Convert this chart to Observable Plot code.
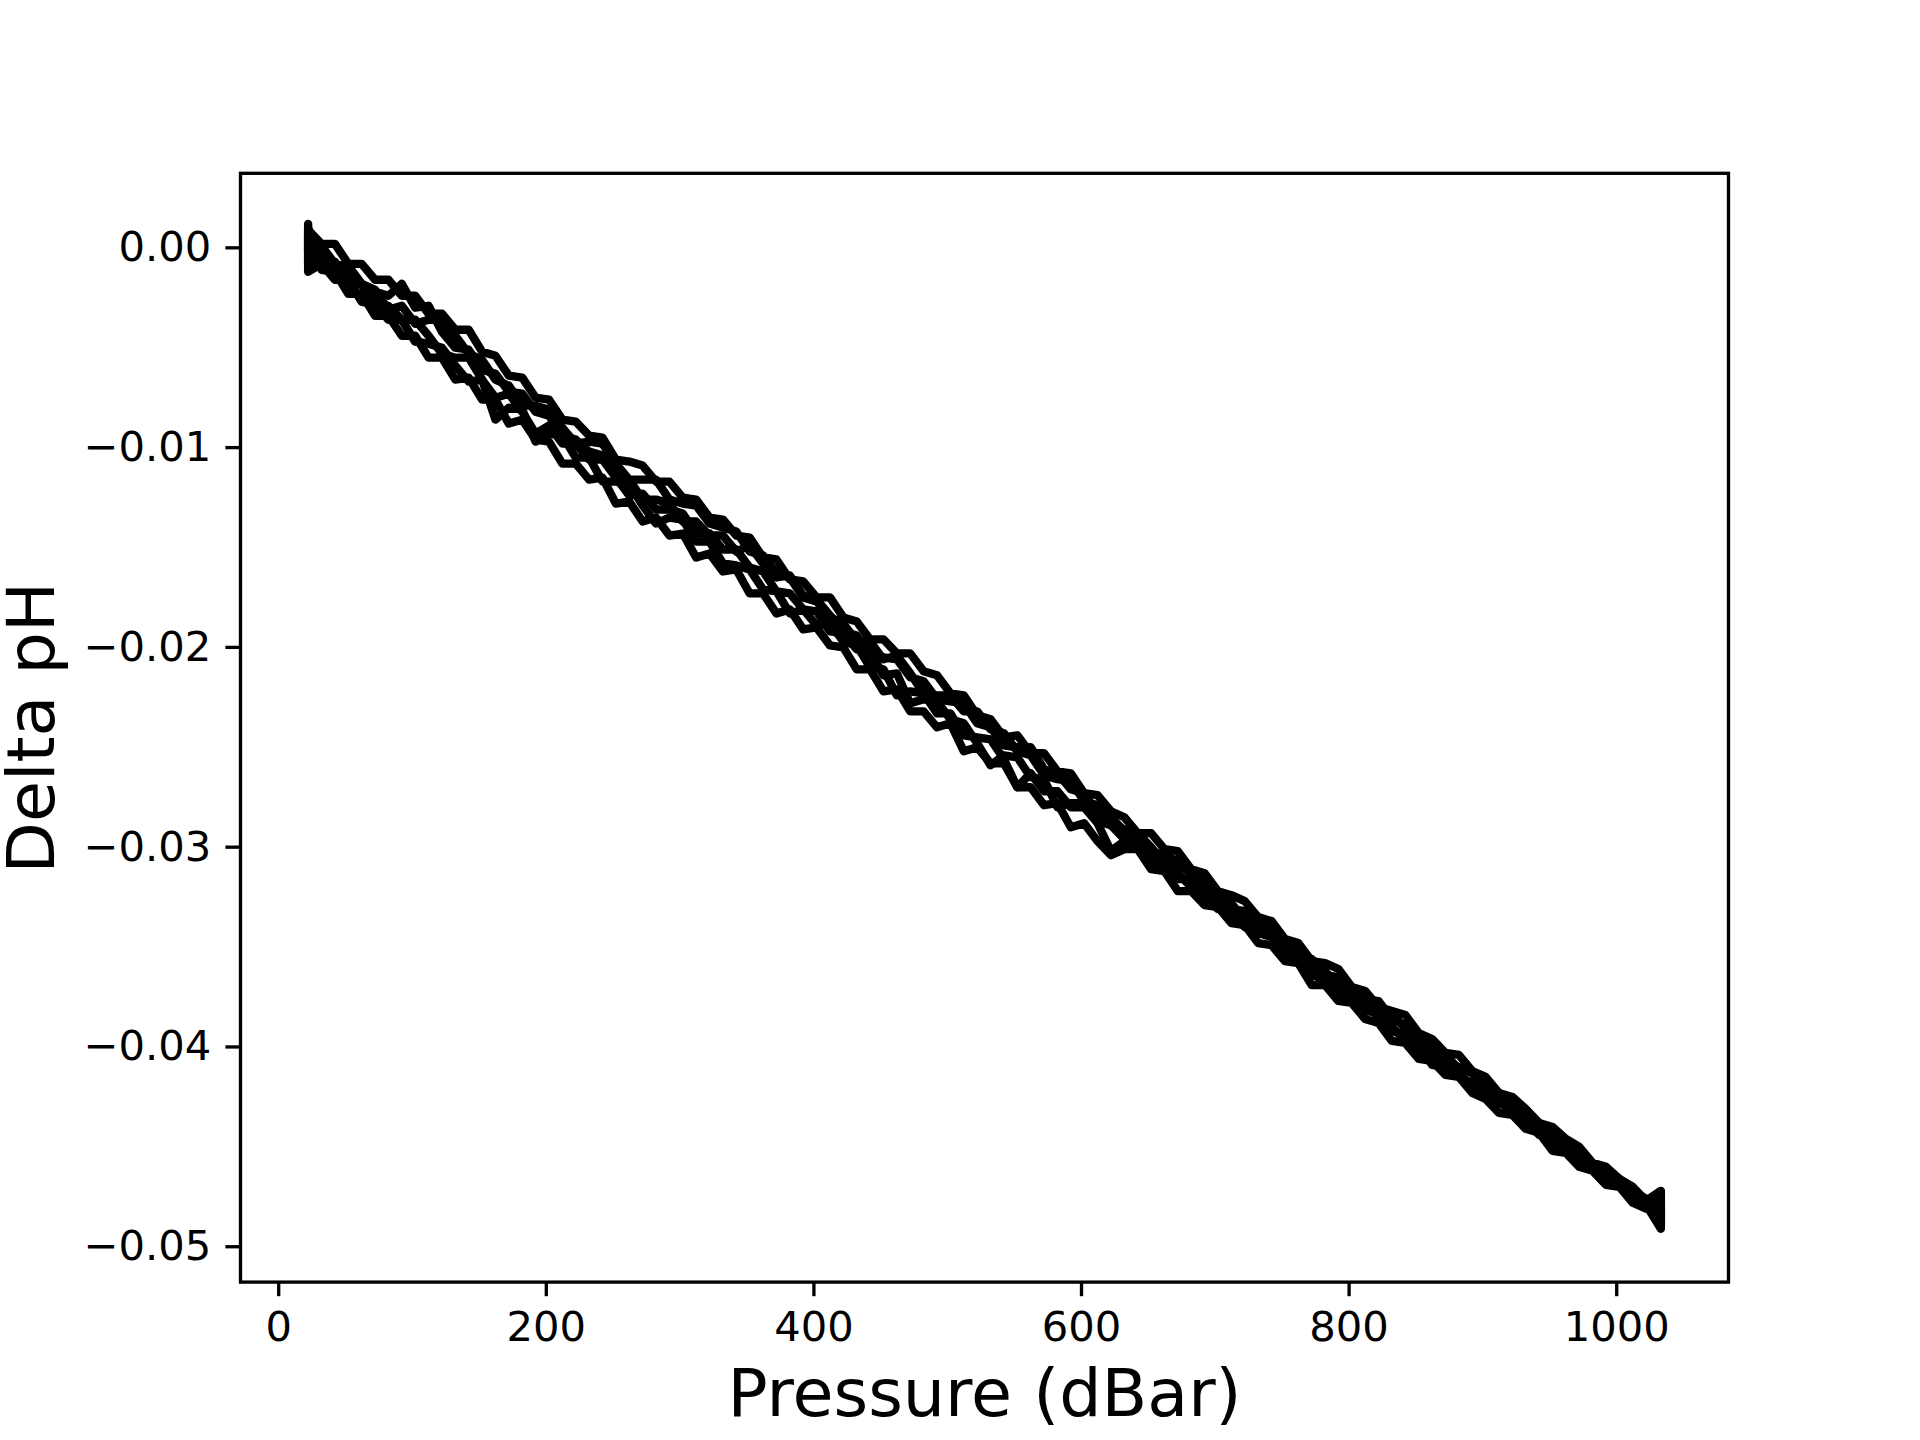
<!DOCTYPE html>
<html>
<head>
<meta charset="utf-8">
<script src="https://cdn.jsdelivr.net/npm/d3@7"></script>
<script src="https://cdn.jsdelivr.net/npm/@observablehq/plot@0.6"></script>
<style>
  html, body { margin: 0; padding: 0; background: #ffffff; }
  #chart { width: 1920px; height: 1440px; }
</style>
</head>
<body>
<div id="chart"></div>
<script>
// Shared pressure grid (dBar) for every profile
const pressure = [22, 22, 32, 42, 52, 62, 72, 82, 92, 102, 112, 122, 132, 142, 152, 162, 172, 182, 192, 202,
  212, 222, 232, 242, 252, 262, 272, 282, 292, 302, 312, 322, 332, 342, 352, 362, 372, 382, 392, 402,
  412, 422, 432, 442, 452, 462, 472, 482, 492, 502, 512, 522, 532, 542, 552, 562, 572, 582, 592, 602,
  612, 622, 632, 642, 652, 662, 672, 682, 692, 702, 712, 722, 732, 742, 752, 762, 772, 782, 792, 802,
  812, 822, 832, 842, 852, 862, 872, 882, 892, 902, 912, 922, 932, 942, 952, 962, 972, 982, 992, 1002,
  1012, 1022, 1033, 1033];

// Delta pH values per profile
const profile1 = [0.0012, -0.0004,
  0.0001, -0.0008, -0.0009, -0.0018, -0.0021, -0.0031, -0.0029, -0.0038, -0.0036, -0.0036,
  -0.0044, -0.0053, -0.0056, -0.0066, -0.0069, -0.0079, -0.0079, -0.0081, -0.0090, -0.0098,
  -0.0097, -0.0098, -0.0108, -0.0116, -0.0116, -0.0116, -0.0126, -0.0128, -0.0129, -0.0138,
  -0.0140, -0.0142, -0.0152, -0.0154, -0.0163, -0.0165, -0.0175, -0.0177, -0.0185, -0.0188,
  -0.0197, -0.0197, -0.0206, -0.0204, -0.0213, -0.0223, -0.0224, -0.0224, -0.0232, -0.0232,
  -0.0241, -0.0243, -0.0252, -0.0254, -0.0264, -0.0266, -0.0267, -0.0277, -0.0279, -0.0289,
  -0.0291, -0.0293, -0.0302, -0.0304, -0.0307, -0.0314, -0.0317, -0.0325, -0.0328, -0.0337,
  -0.0338, -0.0341, -0.0349, -0.0350, -0.0357, -0.0364, -0.0365, -0.0372, -0.0373, -0.0380,
  -0.0383, -0.0391, -0.0394, -0.0403, -0.0404, -0.0411, -0.0413, -0.0420, -0.0426, -0.0428,
  -0.0435, -0.0438, -0.0446, -0.0448, -0.0451, -0.0459, -0.0462, -0.0469, -0.0472, -0.0476,
  -0.0476, -0.0489];
const profile2 = [0.0008, -0.0012,
  -0.0008, -0.0016, -0.0016, -0.0027, -0.0028, -0.0036, -0.0036, -0.0047, -0.0048, -0.0050,
  -0.0059, -0.0067, -0.0066, -0.0086, -0.0080, -0.0081, -0.0097, -0.0093, -0.0094, -0.0105,
  -0.0105, -0.0117, -0.0117, -0.0118, -0.0129, -0.0138, -0.0135, -0.0136, -0.0147, -0.0147,
  -0.0158, -0.0159, -0.0161, -0.0171, -0.0172, -0.0183, -0.0181, -0.0189, -0.0188, -0.0197,
  -0.0199, -0.0210, -0.0211, -0.0224, -0.0222, -0.0223, -0.0233, -0.0233, -0.0244, -0.0245,
  -0.0246, -0.0256, -0.0270, -0.0263, -0.0272, -0.0272, -0.0280, -0.0280, -0.0288, -0.0302,
  -0.0297, -0.0298, -0.0307, -0.0309, -0.0316, -0.0316, -0.0324, -0.0331, -0.0332, -0.0340,
  -0.0342, -0.0345, -0.0353, -0.0356, -0.0364, -0.0366, -0.0374, -0.0375, -0.0382, -0.0383,
  -0.0390, -0.0397, -0.0399, -0.0409, -0.0410, -0.0413, -0.0421, -0.0424, -0.0426, -0.0434,
  -0.0437, -0.0444, -0.0446, -0.0452, -0.0456, -0.0459, -0.0467, -0.0469, -0.0475, -0.0479,
  -0.0491, -0.0480];
const profile3 = [0.0003, 0.0009,
  0.0002, 0.0002, -0.0008, -0.0008, -0.0016, -0.0016, -0.0024, -0.0024, -0.0033, -0.0033,
  -0.0041, -0.0041, -0.0052, -0.0054, -0.0064, -0.0065, -0.0075, -0.0076, -0.0086, -0.0087,
  -0.0094, -0.0095, -0.0106, -0.0107, -0.0109, -0.0117, -0.0117, -0.0125, -0.0126, -0.0135,
  -0.0136, -0.0144, -0.0145, -0.0155, -0.0156, -0.0166, -0.0167, -0.0175, -0.0175, -0.0185,
  -0.0187, -0.0196, -0.0196, -0.0203, -0.0203, -0.0212, -0.0214, -0.0223, -0.0224, -0.0234,
  -0.0236, -0.0245, -0.0244, -0.0253, -0.0253, -0.0262, -0.0263, -0.0273, -0.0274, -0.0282,
  -0.0285, -0.0293, -0.0293, -0.0301, -0.0302, -0.0311, -0.0313, -0.0322, -0.0324, -0.0327,
  -0.0335, -0.0337, -0.0346, -0.0348, -0.0357, -0.0358, -0.0361, -0.0370, -0.0372, -0.0380,
  -0.0382, -0.0384, -0.0393, -0.0396, -0.0403, -0.0404, -0.0412, -0.0415, -0.0423, -0.0425,
  -0.0431, -0.0438, -0.0440, -0.0446, -0.0450, -0.0458, -0.0460, -0.0466, -0.0470, -0.0477,
  -0.0472, -0.0484];
const profile4 = [-0.0010, 0.0005,
  -0.0006, -0.0007, -0.0016, -0.0018, -0.0028, -0.0029, -0.0036, -0.0036, -0.0044, -0.0053,
  -0.0055, -0.0055, -0.0066, -0.0075, -0.0073, -0.0082, -0.0093, -0.0089, -0.0098, -0.0098,
  -0.0106, -0.0106, -0.0115, -0.0124, -0.0123, -0.0131, -0.0131, -0.0133, -0.0143, -0.0143,
  -0.0151, -0.0151, -0.0160, -0.0162, -0.0172, -0.0173, -0.0181, -0.0182, -0.0192, -0.0193,
  -0.0201, -0.0202, -0.0214, -0.0213, -0.0228, -0.0226, -0.0227, -0.0236, -0.0238, -0.0248,
  -0.0259, -0.0254, -0.0255, -0.0265, -0.0266, -0.0280, -0.0278, -0.0278, -0.0287, -0.0289,
  -0.0296, -0.0296, -0.0304, -0.0305, -0.0313, -0.0320, -0.0321, -0.0328, -0.0330, -0.0337,
  -0.0343, -0.0345, -0.0352, -0.0354, -0.0361, -0.0369, -0.0370, -0.0377, -0.0379, -0.0385,
  -0.0392, -0.0394, -0.0403, -0.0405, -0.0407, -0.0415, -0.0418, -0.0421, -0.0428, -0.0431,
  -0.0437, -0.0440, -0.0448, -0.0450, -0.0454, -0.0461, -0.0463, -0.0469, -0.0473, -0.0480,
  -0.0486, -0.0478];
const profile5 = [0.0006, -0.0008,
  -0.0003, -0.0011, -0.0010, -0.0019, -0.0022, -0.0024, -0.0018, -0.0030, -0.0029, -0.0042,
  -0.0050, -0.0051, -0.0061, -0.0063, -0.0072, -0.0073, -0.0082, -0.0084, -0.0094, -0.0096,
  -0.0102, -0.0104, -0.0114, -0.0116, -0.0126, -0.0126, -0.0128, -0.0137, -0.0137, -0.0144,
  -0.0144, -0.0152, -0.0149, -0.0158, -0.0165, -0.0164, -0.0174, -0.0176, -0.0184, -0.0192,
  -0.0194, -0.0203, -0.0205, -0.0206, -0.0215, -0.0217, -0.0226, -0.0227, -0.0228, -0.0238,
  -0.0240, -0.0249, -0.0250, -0.0250, -0.0261, -0.0263, -0.0271, -0.0273, -0.0283, -0.0285,
  -0.0292, -0.0293, -0.0300, -0.0308, -0.0310, -0.0311, -0.0320, -0.0323, -0.0331, -0.0332,
  -0.0338, -0.0345, -0.0347, -0.0354, -0.0356, -0.0362, -0.0370, -0.0373, -0.0376, -0.0377,
  -0.0386, -0.0389, -0.0397, -0.0400, -0.0408, -0.0410, -0.0413, -0.0421, -0.0423, -0.0429,
  -0.0436, -0.0439, -0.0445, -0.0447, -0.0455, -0.0458, -0.0464, -0.0466, -0.0473, -0.0477,
  -0.0480, -0.0490];
const profile6 = [-0.0003, 0.0010,
  -0.0011, -0.0012, -0.0023, -0.0023, -0.0034, -0.0034, -0.0044, -0.0044, -0.0055, -0.0055,
  -0.0066, -0.0065, -0.0076, -0.0076, -0.0088, -0.0086, -0.0096, -0.0097, -0.0108, -0.0108,
  -0.0116, -0.0115, -0.0128, -0.0127, -0.0137, -0.0135, -0.0144, -0.0143, -0.0155, -0.0153,
  -0.0162, -0.0161, -0.0173, -0.0173, -0.0183, -0.0181, -0.0191, -0.0190, -0.0199, -0.0200,
  -0.0211, -0.0211, -0.0222, -0.0221, -0.0232, -0.0232, -0.0240, -0.0238, -0.0252, -0.0250,
  -0.0258, -0.0258, -0.0270, -0.0270, -0.0279, -0.0278, -0.0290, -0.0288, -0.0297, -0.0304,
  -0.0301, -0.0301, -0.0311, -0.0312, -0.0322, -0.0322, -0.0329, -0.0330, -0.0338, -0.0339,
  -0.0348, -0.0349, -0.0357, -0.0358, -0.0369, -0.0369, -0.0377, -0.0378, -0.0386, -0.0388,
  -0.0397, -0.0398, -0.0406, -0.0407, -0.0414, -0.0415, -0.0423, -0.0426, -0.0433, -0.0434,
  -0.0441, -0.0443, -0.0452, -0.0453, -0.0460, -0.0462, -0.0469, -0.0470, -0.0478, -0.0481,
  -0.0474, -0.0486];

const xTicks = [0, 200, 400, 600, 800, 1000];
const yTicks = [0, -0.01, -0.02, -0.03, -0.04, -0.05];
const xLabel = "Pressure (dBar)";
const yLabel = "Delta pH";

const profiles = [profile1, profile2, profile3, profile4, profile5, profile6];
const rows = profiles.flatMap((vals, i) =>
  vals.map((v, j) => ({pressure: pressure[j], dph: v, profile: i}))
);

const chart = Plot.plot({
  width: 1920,
  height: 1440,
  marginLeft: 240,
  marginRight: 192,
  marginTop: 172.8,
  marginBottom: 158.4,
  style: {fontFamily: "DejaVu Sans", background: "#ffffff", color: "#000000", overflow: "visible"},
  x: {domain: [-28.55, 1083.55]},
  y: {domain: [-0.05177, 0.00373]},
  marks: [
    Plot.line(rows, {
      x: "pressure", y: "dph", z: "profile",
      stroke: "#000000", strokeWidth: 8.33,
      strokeLinejoin: "round", strokeLinecap: "round"
    }),
    Plot.frame({stroke: "#000000", strokeWidth: 3.33}),
    Plot.axisX({
      ticks: xTicks, tickSize: 14.6, tickPadding: 15, fontSize: 41.67,
      strokeWidth: 3.33, stroke: "#000000", tickFormat: d => String(d), label: null
    }),
    Plot.axisY({
      ticks: yTicks, tickSize: 14.6, tickPadding: 14.6, fontSize: 41.67,
      strokeWidth: 3.33, stroke: "#000000", tickFormat: d3.format(".2f"), label: null
    }),
    Plot.text([xLabel], {
      text: d => d, frameAnchor: "bottom", dy: 134, fontSize: 66.67, fill: "#000000"
    }),
    Plot.text([yLabel], {
      text: d => d, frameAnchor: "left", textAnchor: "middle", dx: -208, rotate: -90,
      fontSize: 66.67, fill: "#000000"
    })
  ]
});

document.getElementById("chart").appendChild(chart);
</script>
</body>
</html>
